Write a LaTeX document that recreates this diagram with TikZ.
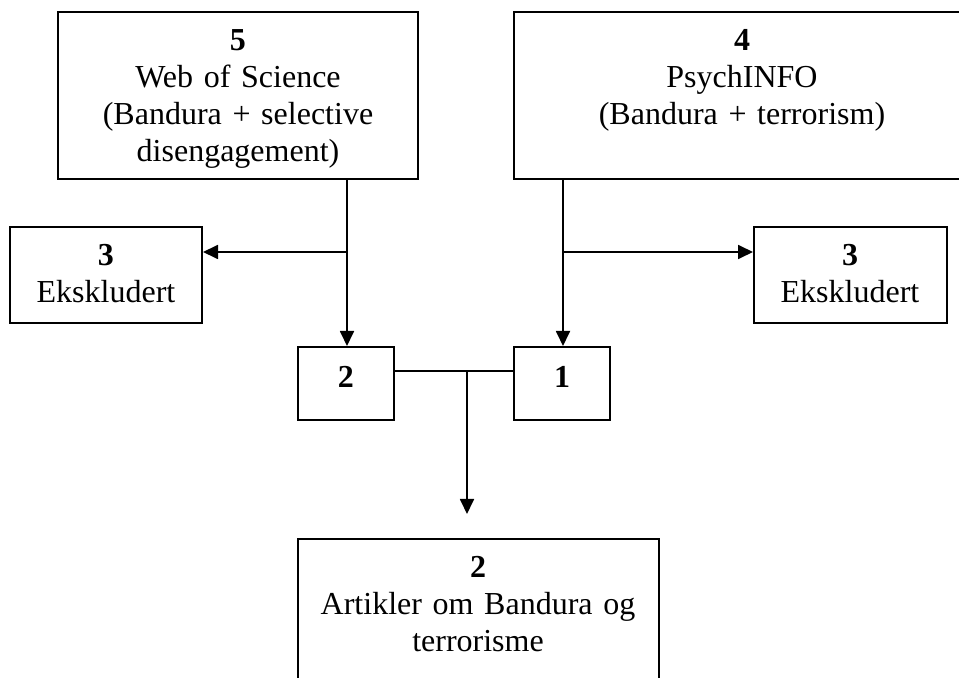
\documentclass[tikz,border=0pt]{standalone}
\usepackage{fontspec}
\setmainfont{Liberation Serif}
\usetikzlibrary{arrows.meta}
\begin{document}
\begin{tikzpicture}[x=0.5pt,y=-0.5pt,
  font=\fontsize{16}{18.4}\selectfont,
  box/.style={draw=black, line width=1pt, rectangle, inner sep=0pt},
  txt/.style={inner sep=0pt, anchor=base, align=center, text width=230pt},
  conn/.style={draw=black, line width=0.9pt},
  arr/.style={conn, -{Triangle[length=7.5pt,width=7pt]}}]
\useasboundingbox (0,0) rectangle (959,678);
% boxes
\node[box, minimum width=180pt, minimum height=83.5pt] (b5) at (238,95.5) {};
\node[box, minimum width=228pt, minimum height=83.5pt] (b4) at (742,95.5) {};
\node[box, minimum width=96pt, minimum height=48pt] (e1) at (106,275) {};
\node[box, minimum width=96.5pt, minimum height=48pt] (e2) at (850.5,275) {};
\node[box, minimum width=48pt, minimum height=36.5pt] (n2) at (346,383.5) {};
\node[box, minimum width=48pt, minimum height=36.5pt] (n1) at (562,383.5) {};
\node[box, minimum width=180.5pt, minimum height=83.5pt] (bot) at (478.5,622.5) {};
% texts
\node[txt] (t5) at (238,51) {\textbf{5}\\Web of Science\\(Bandura + selective\\disengagement)};
\node[txt] (t4) at (742,51) {\textbf{4}\\PsychINFO\\(Bandura + terrorism)};
\node[txt] (te1) at (106,266) {\textbf{3}\\Ekskludert};
\node[txt] (te2) at (850,266) {\textbf{3}\\Ekskludert};
\node[txt] (tn2) at (346,388) {\textbf{2}};
\node[txt] (tn1) at (562,388) {\textbf{1}};
\node[txt] (tbot) at (478,578) {\textbf{2}\\Artikler om Bandura og\\terrorisme};
% connectors
\coordinate (j1) at (347,252);
\coordinate (j2) at (563,252);
\coordinate (j3) at (467,371);
\coordinate (tip) at (467,514);
\draw[arr] (b5.south -| j1) -- (j1 |- n2.north);
\draw[arr] (j1) -- (j1 -| e1.east);
\draw[arr] (b4.south -| j2) -- (j2 |- n1.north);
\draw[arr] (j2) -- (j2 -| e2.west);
\draw[conn] (n2.east |- j3) -- (n1.west |- j3);
\draw[arr] (j3) -- (tip);
\end{tikzpicture}
\end{document}
